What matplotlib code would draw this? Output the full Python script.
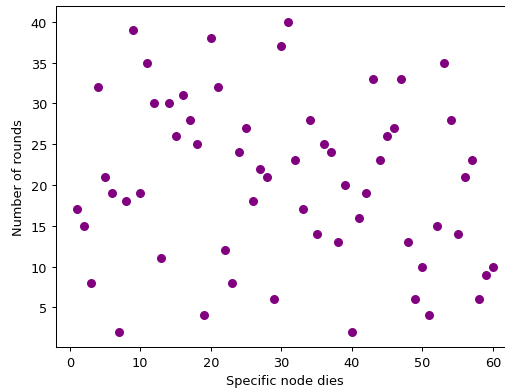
import numpy as np
import matplotlib
matplotlib.use("Agg")
import matplotlib.pyplot as plt

# node index vs. round in which it died
nodes = np.arange(1, 61)
rounds = [17, 15, 8, 32, 21, 19, 2, 18, 39, 19,
          35, 30, 11, 30, 26, 31, 28, 25, 4, 38,
          32, 12, 8, 24, 27, 18, 22, 21, 6, 37,
          40, 23, 17, 28, 14, 25, 24, 13, 20, 2,
          16, 19, 33, 23, 26, 27, 33, 13, 6, 10,
          4, 15, 35, 28, 14, 21, 23, 6, 9, 10]

dpi = 92.3
fig = plt.figure(figsize=(505 / dpi, 390 / dpi), dpi=dpi)
ax = fig.add_axes([0.1109, 0.1069, 0.9065, 0.8746])

ax.scatter(nodes, rounds, color='purple')
ax.set_xlabel('Specific node dies')
ax.set_ylabel('Number of rounds')

fig.savefig('out.png', dpi=dpi)
